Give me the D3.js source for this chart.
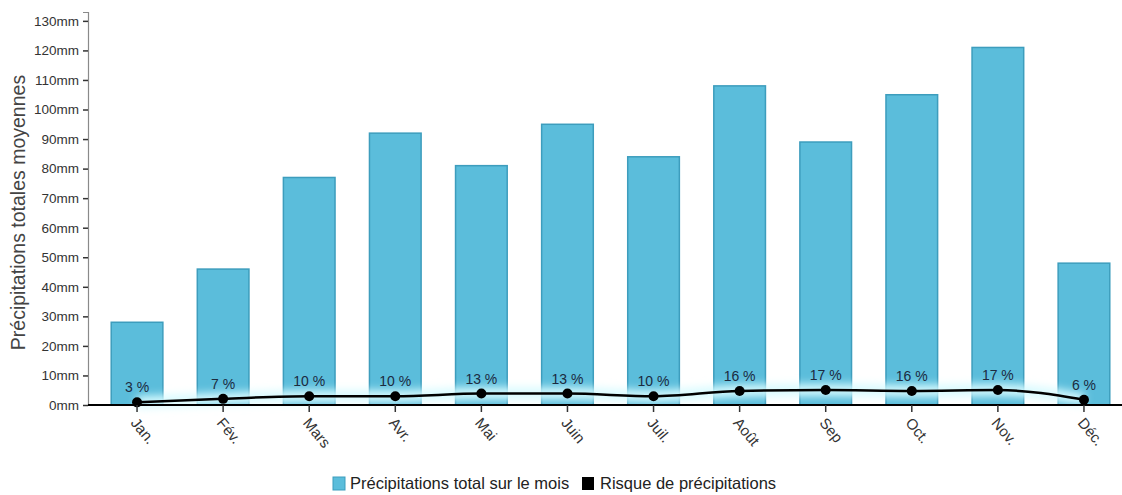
<!DOCTYPE html>
<html>
<head>
<meta charset="utf-8">
<script src="https://cdn.jsdelivr.net/npm/d3@7"></script>
<style>
  html, body { margin: 0; padding: 0; background: #fff; }
  svg { display: block; font-family: "Liberation Sans", Arial, sans-serif; }
</style>
</head>
<body>
<svg id="chart" width="1122" height="495"></svg>
<script>
// Monthly data
const months = ["Jan.", "Fév.", "Mars", "Avr.", "Mai", "Juin", "Juil.", "Août", "Sep", "Oct.", "Nov.", "Déc."];
const rainfall = [28, 46, 77, 92, 81, 95, 84, 108, 89, 105, 121, 48];   // mm
const rainRisk = [3, 7, 10, 10, 13, 13, 10, 16, 17, 16, 17, 6];         // %
const yTicks = [0, 10, 20, 30, 40, 50, 60, 70, 80, 90, 100, 110, 120, 130];
const yMax = 133;

const legendLabels = ["Précipitations total sur le mois", "Risque de précipitations"];
const yTitle = "Précipitations totales moyennes";

const svg = d3.select("#chart");
const W = 1122;
const plotTop = 12, plotBottom = 405, plotLeft = 88;
const font = "'Liberation Sans', Arial, sans-serif";

const x = d3.scaleBand().domain(months).range([94, 1127]).paddingInner(0.4).paddingOuter(0.2);
const y = d3.scaleLinear().domain([0, yMax]).range([plotBottom, plotTop]);
const yRisk = d3.scaleLinear().domain([0, 100]).range([plotBottom, plotBottom - 88]);

const defs = svg.append("defs");
const glow = defs.append("filter").attr("id", "glow")
  .attr("x", "-10%").attr("y", "-200%").attr("width", "120%").attr("height", "500%");
glow.append("feGaussianBlur").attr("stdDeviation", 4);

// Bars
svg.append("g").selectAll("rect").data(rainfall).join("rect")
  .attr("x", (d, i) => x(months[i]))
  .attr("y", d => y(d))
  .attr("width", x.bandwidth())
  .attr("height", d => plotBottom - y(d))
  .attr("fill", "#5bbddb")
  .attr("stroke", "#3d9dbd")
  .attr("stroke-width", 1.5);

// Risk line with a soft light halo
const line = d3.line()
  .x((d, i) => x(months[i]) + x.bandwidth() / 2)
  .y(d => yRisk(d))
  .curve(d3.curveMonotoneX);

svg.append("path").datum(rainRisk)
  .attr("d", line)
  .attr("fill", "none")
  .attr("stroke", "#d8fbff")
  .attr("stroke-width", 12)
  .attr("filter", "url(#glow)");

svg.append("path").datum(rainRisk)
  .attr("d", line)
  .attr("fill", "none")
  .attr("stroke", "#000")
  .attr("stroke-width", 2.5);

svg.append("g").selectAll("circle").data(rainRisk).join("circle")
  .attr("cx", (d, i) => x(months[i]) + x.bandwidth() / 2)
  .attr("cy", d => yRisk(d))
  .attr("r", 5)
  .attr("fill", "#000");

svg.append("g").selectAll("text").data(rainRisk).join("text")
  .attr("x", (d, i) => x(months[i]) + x.bandwidth() / 2)
  .attr("y", d => yRisk(d) - 10)
  .attr("text-anchor", "middle")
  .attr("font-size", 14)
  .attr("fill", "#1c2b3f")
  .text(d => d + " %");

// Y axis
const yAxis = svg.append("g")
  .attr("transform", `translate(${plotLeft},0)`)
  .call(d3.axisLeft(y).tickValues(yTicks).tickFormat(d => d + "mm").tickSize(5).tickSizeOuter(5).tickPadding(4));
yAxis.select(".domain").attr("stroke", "#8a8a8a").attr("stroke-width", 1.2);
yAxis.selectAll(".tick line").attr("stroke", "#333").attr("stroke-width", 1.5);
yAxis.selectAll(".tick text").attr("font-size", 13.5).attr("fill", "#333").attr("font-family", font);

// X axis
const xAxis = svg.append("g")
  .attr("transform", `translate(0,${plotBottom})`)
  .call(d3.axisBottom(x).tickSize(7).tickSizeOuter(0));
xAxis.select(".domain").attr("d", `M${plotLeft},0H${W}`).attr("stroke", "#000").attr("stroke-width", 2);
xAxis.selectAll(".tick line").attr("stroke", "#333").attr("stroke-width", 1.5);
xAxis.selectAll(".tick text")
  .attr("font-size", 15).attr("fill", "#333").attr("font-family", font)
  .attr("text-anchor", "start")
  .attr("x", 0).attr("y", 0).attr("dy", "0.35em")
  .attr("transform", "translate(-3,15) rotate(50)");

// Y axis title
svg.append("text")
  .attr("transform", `translate(25,${(plotTop + plotBottom) / 2 + 4}) rotate(-90)`)
  .attr("text-anchor", "middle")
  .attr("font-size", 19.5)
  .attr("fill", "#444")
  .text(yTitle);

// Legend
const legend = svg.append("g").attr("transform", "translate(333,477)");
legend.append("rect").attr("x", 0).attr("y", 0).attr("width", 12).attr("height", 13)
  .attr("fill", "#5bbddb").attr("stroke", "#3d9dbd");
legend.append("text").attr("x", 17).attr("y", 12).attr("font-size", 16.5).attr("fill", "#222").text(legendLabels[0]);
legend.append("rect").attr("x", 249).attr("y", 0).attr("width", 12).attr("height", 13).attr("fill", "#000");
legend.append("text").attr("x", 267).attr("y", 12).attr("font-size", 16.5).attr("fill", "#222").text(legendLabels[1]);
</script>
</body>
</html>
